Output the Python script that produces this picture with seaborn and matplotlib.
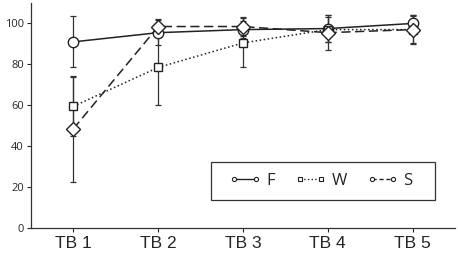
import numpy as np
import pandas as pd
import matplotlib
matplotlib.use("Agg")
import matplotlib.pyplot as plt
from matplotlib.patches import Rectangle
import seaborn as sns

# data
groups = ["TB 1", "TB 2", "TB 3", "TB 4", "TB 5"]
f_mean = [91, 95.5, 97, 97.5, 100]
f_err = [12.5, 6, 4, 6.5, 4]
w_mean = [59.5, 78.5, 90.5, 97, 97]
w_err = [14.5, 18.5, 12, 6, 6.5]
s_mean = [48.5, 98.5, 98.5, 95.5, 97]
s_err = [26, 3.5, 4.5, 8.5, 7]

series = {"F": (f_mean, f_err), "W": (w_mean, w_err), "S": (s_mean, s_err)}

rows = []
for name, (m, e) in series.items():
    for g, v, er in zip(groups, m, e):
        rows.append({"group": g, "value": v, "err": er, "series": name})
df = pd.DataFrame(rows)
df["pos"] = df["group"].map({g: i for i, g in enumerate(groups)})

sns.set_style("ticks")
plt.rcParams["font.family"] = ["Open Sans", "DejaVu Sans"]

fig = plt.figure(figsize=(4.58, 2.54), dpi=100)
ax = fig.add_axes([31 / 458, 26 / 254, 424 / 458, 225 / 254])

styles = {"F": ("-", "o", 7.5), "W": (":", "s", 6.2), "S": ((0, (6, 3)), "D", 6.8)}

# error bars underneath
for name, sub in df.groupby("series", sort=False):
    ax.errorbar(sub["pos"], sub["value"], yerr=sub["err"], fmt="none",
                ecolor="#333333", elinewidth=0.9, capsize=2.5, capthick=0.9, zorder=1)

handles = []
for name in ["F", "W", "S"]:
    sub = df[df["series"] == name]
    ls, mk, ms = styles[name]
    sns.lineplot(data=sub, x="pos", y="value", ax=ax, color="#222222",
                 linestyle=ls, linewidth=1.1, marker=mk, markersize=ms,
                 markerfacecolor="white", markeredgecolor="#222222",
                 markeredgewidth=1.0, zorder=3, legend=False)
    h, = ax.plot([], [], color="#222222", linestyle=ls if name != "S" else (0, (3, 2)),
                 linewidth=1.0, marker="o" if name != "W" else "s", markersize=3,
                 markerfacecolor="white", markeredgecolor="#222222",
                 markeredgewidth=0.8, label=name)
    handles.append(h)

ax.set_xlim(-0.5, 4.5)
ax.set_ylim(0, 110)
ax.set_xticks(range(len(groups)))
ax.set_xticklabels(groups, fontsize=12.5, family=["Liberation Sans", "DejaVu Sans"])
ax.set_yticks([0, 20, 40, 60, 80, 100])
ax.tick_params(axis="y", labelsize=8, length=3, width=0.8, pad=2)
ax.tick_params(axis="x", length=3, width=0.8, pad=3)
ax.set_xlabel("")
ax.set_ylabel("")
for side in ["top", "right"]:
    ax.spines[side].set_visible(False)
for side in ["left", "bottom"]:
    ax.spines[side].set_color("#333333")
    ax.spines[side].set_linewidth(0.9)

# legend box (Excel style: content sits to the left of the frame)
ax.add_patch(Rectangle((0.425, 0.124), 0.528, 0.169, transform=ax.transAxes,
                       fill=True, facecolor="white", edgecolor="#333333",
                       linewidth=0.9, zorder=4))
leg = ax.legend(handles=handles, ncol=3, numpoints=2, loc="center left",
                bbox_to_anchor=(0.468, 0.2085), fontsize=12, frameon=False,
                handlelength=1.9, handletextpad=0.3, columnspacing=1.2,
                borderpad=0, borderaxespad=0)
leg.set_zorder(5)

fig.savefig("out.png", dpi=100)
